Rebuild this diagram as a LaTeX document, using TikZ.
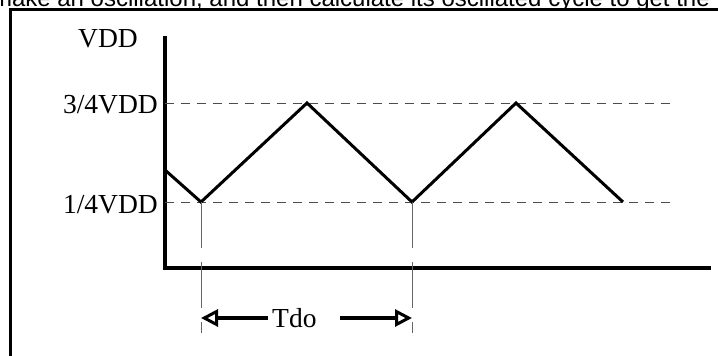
\documentclass[tikz,border=0pt]{standalone}
\usepackage{fontspec}
\setmainfont{Liberation Serif}
\newfontfamily\topsans{Liberation Sans}
\usetikzlibrary{arrows.meta}
\begin{document}
\begin{tikzpicture}[x=1pt,y=-1pt,
  lbl/.style={font=\fontsize{27.5}{30}\selectfont, inner sep=0pt},
  axisline/.style={line width=3.3pt},
  wave/.style={line width=3pt, line join=miter},
  guide/.style={line width=1pt, draw=black!70, dash pattern=on 9pt off 7pt},
  tickline/.style={line width=0.9pt, draw=black!60, dash pattern=on 46pt off 14pt},
  dimarrow/.style={line width=3.2pt, -{Triangle[open, length=17pt, width=17pt, line width=3pt]}},
]
\useasboundingbox (0,0) rectangle (718,356);

% cut-off caption text at the top
\node[anchor=base east, font=\topsans\fontsize{24}{26}\selectfont, inner sep=0pt] (caption) at (710,6)
  {make an oscillation, and then calculate its oscillated cycle to get the};

% frame
\coordinate (fbl) at (10,400);
\coordinate (ftl) at (10,9);
\coordinate (ftr) at (760,9);
\draw[line width=3pt] (fbl) -- (ftl) -- (ftr);

% axes
\coordinate (ytop) at (165,36);
\coordinate (o) at (165,268);
\coordinate (xend) at (711,268);
\draw[axisline] (ytop) -- (o) -- (xend);

% level guides
\coordinate (hiA) at (165,103);
\coordinate (hiB) at (675,103);
\coordinate (loA) at (165,202);
\coordinate (loB) at (675,202);
\draw[guide] (hiA) -- (hiB);
\draw[guide] (loA) -- (loB);

% waveform
\coordinate (w0) at (165,170);
\coordinate (w1) at (201,202);
\coordinate (w2) at (307,103);
\coordinate (w3) at (412,202);
\coordinate (w4) at (516,103);
\coordinate (w5) at (623,202);
\draw[wave] (w0) -- (w1) -- (w2) -- (w3) -- (w4) -- (w5);

% labels
\node[lbl, anchor=base] (vdd) at (108,47) {VDD};
\node[lbl, anchor=base east] (hi) at (158,113) {3/4VDD};
\node[lbl, anchor=base east] (lo) at (158,213) {1/4VDD};
\node[lbl, anchor=base west] (tdo) at (272,327) {Tdo};

% period markers
\coordinate (t1) at (201,333);
\coordinate (t2) at (412,333);
\draw[tickline] (w1) -- (t1);
\draw[tickline] (w3) -- (t2);

% period arrows
\coordinate (al) at (201,318);
\coordinate (alS) at (268,318);
\coordinate (ar) at (412,318);
\coordinate (arS) at (340,318);
\draw[dimarrow] (alS) -- (al);
\draw[dimarrow] (arS) -- (ar);
\end{tikzpicture}
\end{document}
